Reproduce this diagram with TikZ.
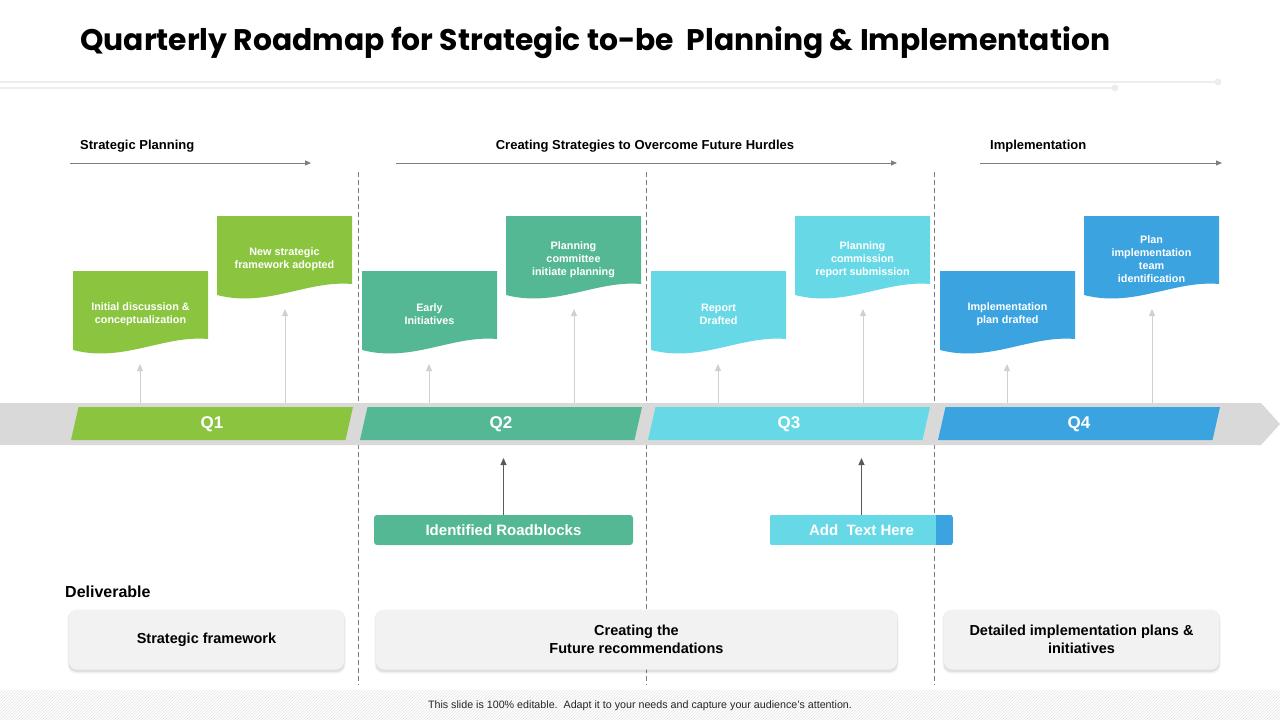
\documentclass[tikz,border=0pt]{standalone}
\usepackage{fontspec}
\setmainfont{Liberation Sans}
\newfontfamily\titlefont{Poppins}
\usetikzlibrary{arrows.meta,patterns}
\definecolor{cgreen}{HTML}{8BC53F}
\definecolor{cteal}{HTML}{55B895}
\definecolor{ccyan}{HTML}{67D9E6}
\definecolor{cblue}{HTML}{3BA3DF}
\definecolor{cbar}{HTML}{D9D9D9}
\definecolor{cbox}{HTML}{F2F2F2}
\definecolor{cline}{HTML}{EDEDED}
\definecolor{cdash}{HTML}{7F7F7F}
\definecolor{cup}{HTML}{D0D0D0}
\definecolor{cdark}{HTML}{595959}
\tikzset{
  bantext/.style={text=white,align=center,font=\bfseries\fontsize{10.8}{13}\selectfont,inner sep=0pt},
  qlabel/.style={text=white,font=\bfseries\fontsize{17}{20}\selectfont},
  seclabel/.style={font=\bfseries\fontsize{13}{15}\selectfont,inner sep=0pt},
  secarrow/.style={draw=cdash,line width=1pt,-{Triangle[length=6pt,width=5pt]}},
  uparrow/.style={draw=cup,line width=1pt,-{Triangle[length=7pt,width=6pt]}},
  darkarrow/.style={draw=cdark,line width=1pt,-{Triangle[length=7pt,width=6pt]}},
  divline/.style={draw=cdash,line width=0.9pt,dash pattern=on 5pt off 3pt},
  pillbox/.style={rounded corners=3pt,minimum height=30pt,text=white,font=\bfseries\fontsize{15}{18}\selectfont},
  delbox/.style={fill=cbox,rounded corners=8pt,minimum height=60pt,align=center,
    font=\bfseries\fontsize{14.5}{18}\selectfont},
}
\newcommand\wbanner[5]{%
  \fill[#4] (#2,#3) -- ({#2+135},#3) -- ({#2+135},{#3+68})
    .. controls ({#2+90},{#3+64}) and ({#2+50},{#3+92}) .. (#2,{#3+79}) -- cycle;
  \node[bantext] (#1) at ({#2+67.5},{#3+43.5}) {#5};
}
\newcommand\qpar[4]{%
  \fill[#3] (#2,440) -- ({#2+7.5},407) -- ({#2+282},407) -- ({#2+274.5},440) -- cycle;
  \node[qlabel] (#1) at ({#2+141},424) {#4};
}
\newcommand\softshadow[4]{% x1 x2 y1 y2
  \fill[black,opacity=0.05,rounded corners=9pt] ({#1-1.5},{#3+1}) rectangle ({#2+1.5},{#4+4.5});
  \fill[black,opacity=0.07,rounded corners=8pt] ({#1-0.5},{#3+1.5}) rectangle ({#2+0.5},{#4+3});
}
\begin{document}
\begin{tikzpicture}[x=1pt,y=-1pt]
\useasboundingbox (0,0) rectangle (1280,720);
\fill[white] (0,0) rectangle (1280,720);

% title
\node[anchor=base west,inner sep=0pt,font=\titlefont\bfseries\fontsize{29.8}{34}\selectfont] (title) at (80,50)
  {Quarterly Roadmap for Strategic to-be\ \ Planning \& Implementation};

% decorative lines
\coordinate (l1a) at (0,82); \coordinate (l1b) at (1218,82);
\coordinate (l2a) at (0,88); \coordinate (l2b) at (1115,88);
\draw[cline,line width=2pt] (l1a) -- (l1b);
\fill[cline] (l1b) circle (3.5pt);
\draw[cline,line width=2pt] (l2a) -- (l2b);
\fill[cline] (l2b) circle (3.5pt);

% section labels
\node[seclabel,anchor=west] (sp) at (80,146.5) {Strategic Planning};
\node[seclabel] (cs) at (645,146.5) {Creating Strategies to Overcome Future Hurdles};
\node[seclabel,anchor=west] (im) at (990,146.5) {Implementation};
\coordinate (s1a) at (70,163);  \coordinate (s1b) at (311,163);
\coordinate (s2a) at (396,163); \coordinate (s2b) at (897,163);
\coordinate (s3a) at (980,163); \coordinate (s3b) at (1222,163);
\draw[secarrow] (s1a) -- (s1b);
\draw[secarrow] (s2a) -- (s2b);
\draw[secarrow] (s3a) -- (s3b);

% dashed dividers
\foreach \x/\n in {358/v1,646/v2,934/v3}{
  \coordinate (\n a) at (\x,172); \coordinate (\n b) at (\x,685);
  \draw[divline] (\n a) -- (\n b);
}

% banners
\wbanner{b1}{73}{271}{cgreen}{Initial discussion \&\\conceptualization}
\wbanner{b2}{217}{216}{cgreen}{New strategic\\framework adopted}
\wbanner{b3}{362}{271}{cteal}{Early\\Initiatives}
\wbanner{b4}{506}{216}{cteal}{Planning\\committee\\initiate planning}
\wbanner{b5}{651}{271}{ccyan}{Report\\Drafted}
\wbanner{b6}{795}{216}{ccyan}{Planning\\commission\\report submission}
\wbanner{b7}{940}{271}{cblue}{Implementation\\plan drafted}
\wbanner{b8}{1084}{216}{cblue}{Plan\\implementation\\team\\identification}

% up arrows from bar
\foreach \x/\t/\n in {140/364/u1,285/309/u2,429/364/u3,574/309/u4,718/364/u5,863/309/u6,1007/364/u7,1152/309/u8}{
  \coordinate (\n a) at (\x,403); \coordinate (\n b) at (\x,\t);
  \draw[uparrow] (\n a) -- (\n b);
}

% timeline bar
\fill[cbar] (0,403) -- (1261,403) -- (1280,424) -- (1261,445) -- (0,445) -- cycle;
\qpar{q1}{71}{cgreen}{Q1}
\qpar{q2}{360}{cteal}{Q2}
\qpar{q3}{648}{ccyan}{Q3}
\qpar{q4}{938}{cblue}{Q4}

% roadblock boxes
\node[pillbox,fill=cteal,minimum width=259pt] (rb) at (503.5,530) {Identified Roadblocks};
\coordinate (rbt) at (503.5,458);
\draw[darkarrow] (rb.north) -- (rbt);

\node[minimum width=183pt,minimum height=30pt,inner sep=0pt] (ath) at (861.5,530) {};
\begin{scope}
  \clip[rounded corners=3pt] (ath.north west) rectangle (ath.south east);
  \fill[cblue] (ath.north west) rectangle (ath.south east);
  \fill[ccyan] (ath.north west) rectangle ([xshift=-17pt]ath.south east);
\end{scope}
\node[text=white,font=\bfseries\fontsize{15}{18}\selectfont] (athtext) at (ath.center) {Add\ \ Text Here};
\coordinate (atht) at (861.5,458);
\draw[darkarrow] (ath.north) -- (atht);

% deliverables
\node[anchor=west,inner sep=0pt,font=\bfseries\fontsize{16}{19}\selectfont] (del) at (65,592) {Deliverable};
\softshadow{69}{344}{609}{669}
\softshadow{376}{897}{609}{669}
\softshadow{944}{1219}{609}{669}
\node[delbox,minimum width=275pt] (d1) at (206.5,639.5) {Strategic framework};
\node[delbox,minimum width=521pt] (d2) at (636.5,639.5) {Creating the\\Future recommendations};
\node[delbox,minimum width=275pt] (d3) at (1081.5,639.5) {Detailed implementation plans \&\\initiatives};

% footer
\fill[pattern=north east lines,pattern color=black!10] (0,690) rectangle (1280,720);
\node[font=\fontsize{10.7}{12}\selectfont,text=black!85] (foot) at (640,706)
  {This slide is 100\% editable.\ \ Adapt it to your needs and capture your audience's attention.};
\end{tikzpicture}
\end{document}
